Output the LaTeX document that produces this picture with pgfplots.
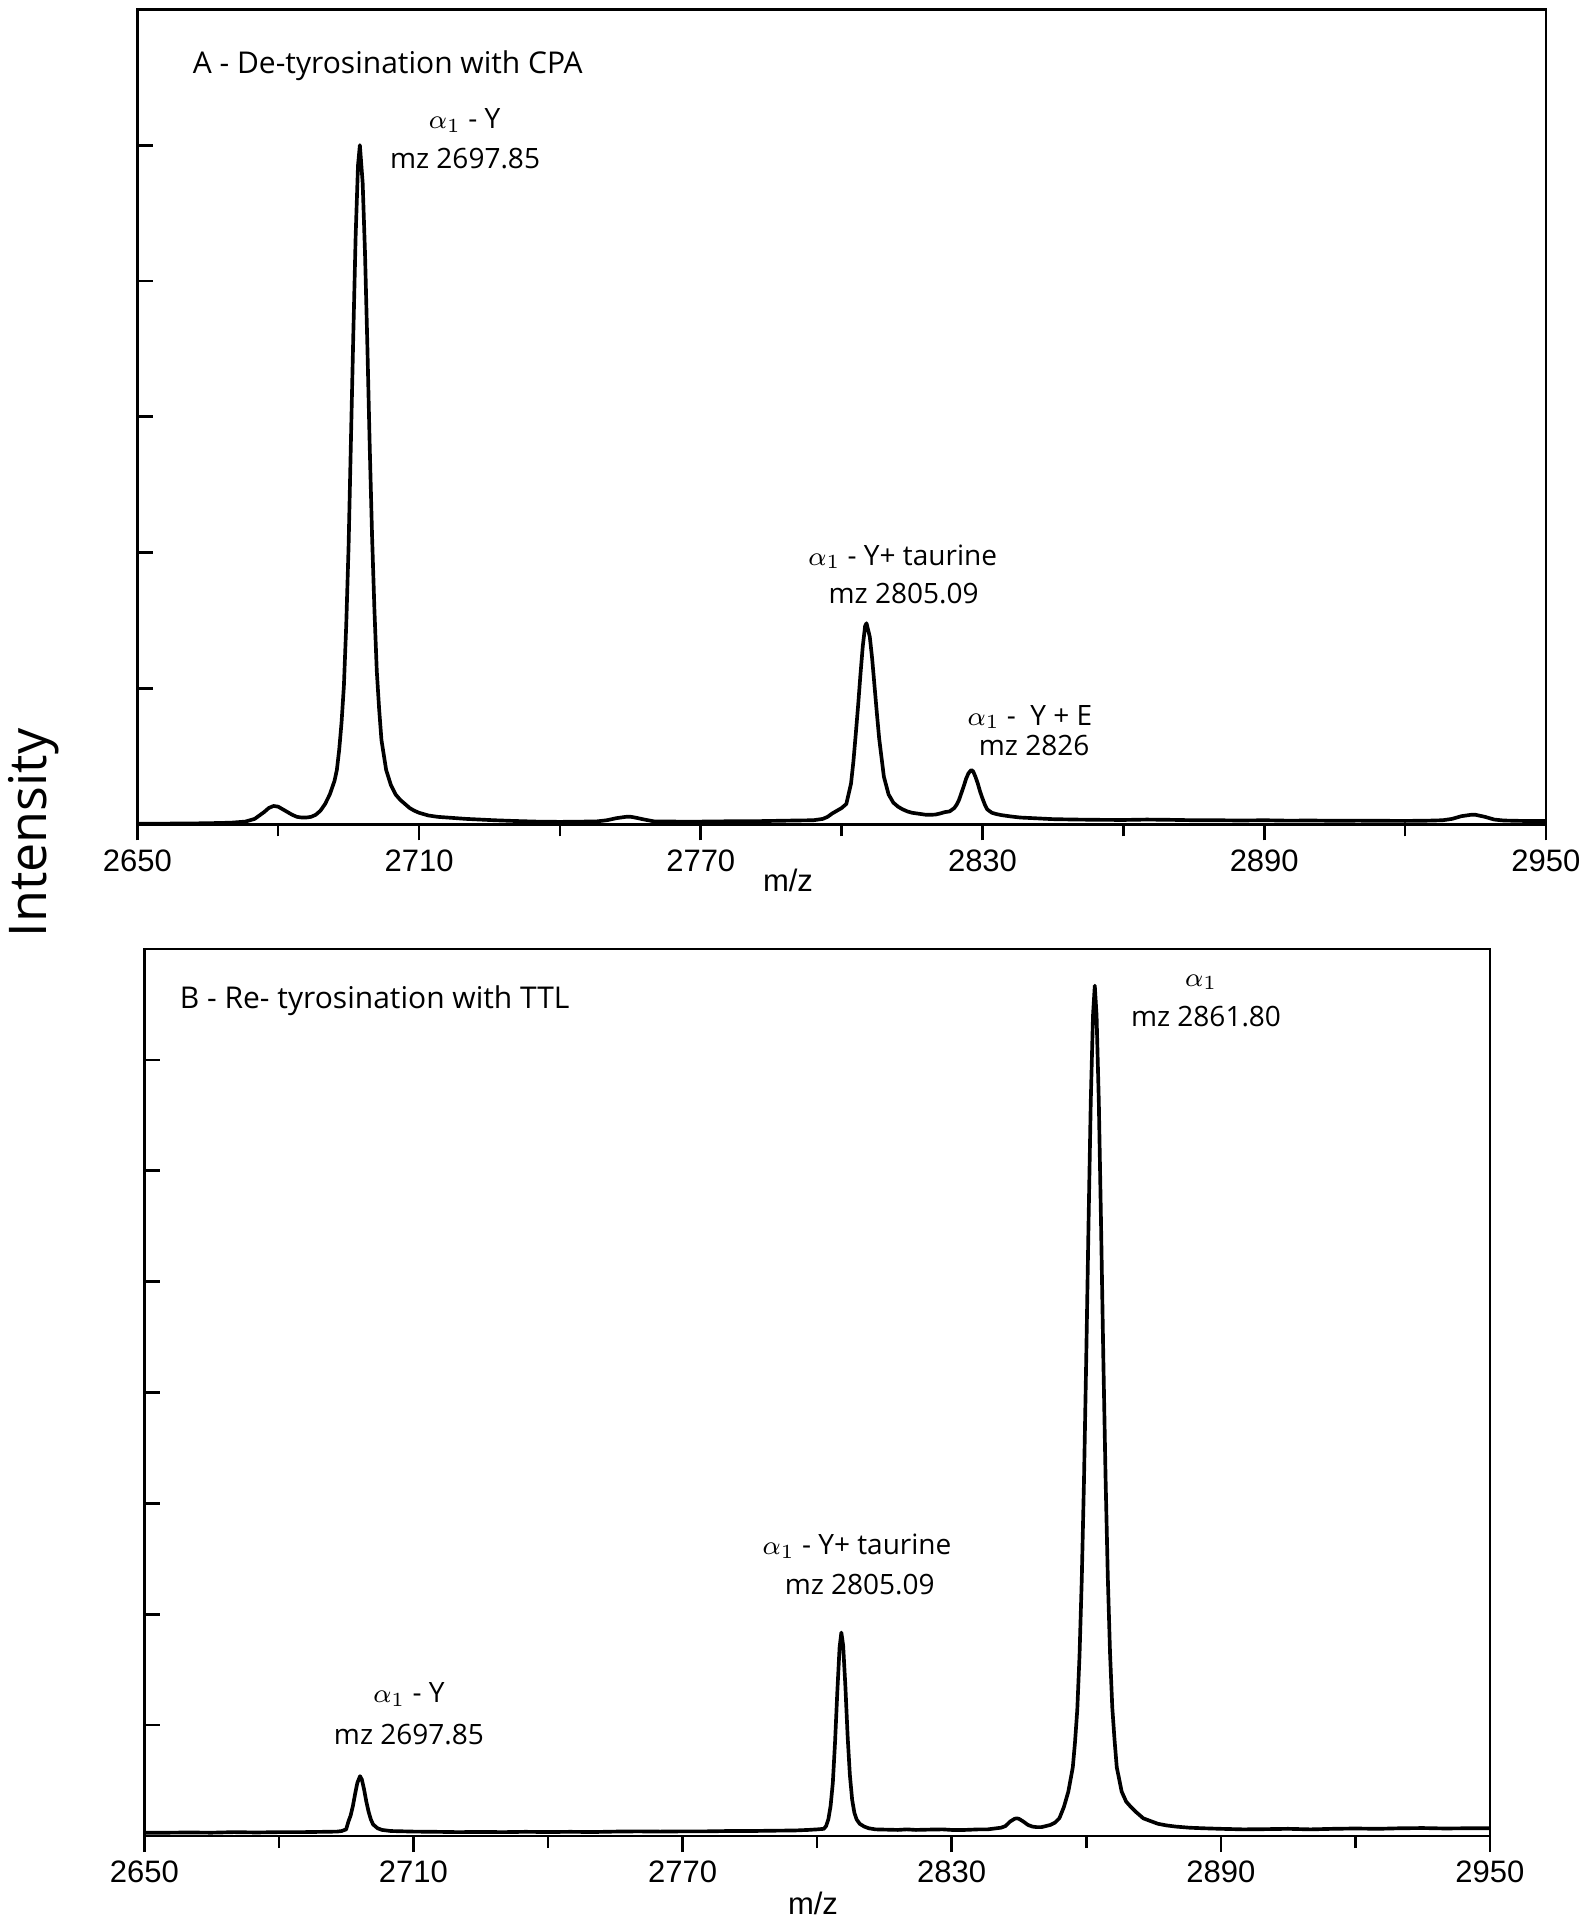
\documentclass[border=0pt]{standalone}
\usepackage{fontspec}
\setmainfont{Open Sans}
\newfontfamily\helv{Liberation Sans}
\usepackage{pgfplots}
\pgfplotsset{compat=1.18}
\pgfplotsset{
  spec/.style={
    scale only axis, clip=true,
    xmin=2650, xmax=2950, ymin=0,
    xtick={2650,2710,2770,2830,2890,2950},
    minor xtick={2680,2740,2800,2860,2920},
    xtick pos=left, ytick pos=left,
    yticklabels={},
    tick align=inside,
    major tick length=4.8pt, minor tick length=3.6pt,
    major x tick style={yshift=-4.8pt},
    minor x tick style={yshift=-3.6pt},
    tick style={black, line width=0.8pt},
    axis line style={line width=0.8pt},
    xticklabel style={font=\helv\fontsize{9.3}{11}\selectfont, yshift=-4pt},
    /pgf/number format/assume math mode=true,
    /pgf/number format/1000 sep={},
  },
}
\tikzset{
  lab/.style={font=\fontsize{8.4}{10}\selectfont, anchor=base, inner sep=0pt},
  ttl/.style={font=\fontsize{9}{11}\selectfont, anchor=base west, inner sep=0pt},
}
\begin{document}
\begin{tikzpicture}
\path[use as bounding box] (0,0) rectangle (477.3pt,-576pt);

% ---------------- Panel A ----------------
\begin{axis}[spec, at={(41.19pt,-247.29pt)}, anchor=south west,
  width=422.6pt, height=244.5pt, ymax=6, ytick={1,2,3,4,5}]
\addplot[black, line width=1.1pt, line join=round] coordinates {
(2650,0.005)(2655,0.005)(2660,0.006)(2665,0.008)(2670,0.012)(2673,0.02)
(2675,0.04)(2677,0.09)(2678,0.12)(2679,0.135)(2680,0.13)(2681,0.11)
(2682,0.09)(2683,0.07)(2684,0.055)(2685,0.05)(2686,0.05)(2687,0.055)
(2688,0.07)(2689,0.10)(2690,0.15)(2691,0.22)(2692,0.32)(2692.5,0.40)
(2693,0.55)(2693.5,0.75)(2694,1.02)(2694.5,1.47)(2695,2.05)(2695.5,2.83)
(2696,3.6)(2696.5,4.33)(2697,4.85)(2697.4,5.0)(2698,4.72)(2698.5,4.2)
(2699,3.52)(2699.5,2.78)(2700,2.12)(2700.5,1.58)(2701,1.13)(2701.5,0.85)
(2702,0.62)(2703,0.40)(2704,0.29)(2705,0.22)(2706,0.18)(2707,0.15)
(2708,0.12)(2709,0.10)(2710,0.085)(2712,0.065)(2714,0.055)(2716,0.05)
(2718,0.045)(2720,0.04)(2723,0.035)(2726,0.03)(2730,0.025)(2735,0.02)
(2740,0.018)(2745,0.02)(2748,0.022)(2750,0.03)(2752,0.045)(2754,0.055)
(2755,0.056)(2756,0.05)(2758,0.035)(2760,0.022)(2765,0.02)(2770,0.02)
(2775,0.022)(2780,0.022)(2785,0.025)(2790,0.028)(2794,0.03)(2796,0.04)
(2797,0.055)(2798,0.08)(2799,0.10)(2800,0.12)(2801,0.15)(2802,0.30)
(2802.5,0.46)(2803,0.66)(2803.5,0.87)(2804,1.10)(2804.5,1.31)(2805,1.46)
(2805.3,1.48)(2806,1.38)(2806.5,1.22)(2807,1.02)(2807.5,0.82)(2808,0.63)
(2808.5,0.49)(2809,0.35)(2810,0.22)(2811,0.16)(2812,0.13)(2813,0.11)
(2814,0.095)(2815,0.085)(2816,0.08)(2817,0.075)(2818,0.07)(2819,0.07)
(2820,0.072)(2821,0.08)(2822,0.09)(2823,0.095)(2824,0.12)(2824.5,0.145)
(2825,0.18)(2825.5,0.23)(2826,0.28)(2826.5,0.335)(2827,0.375)(2827.6,0.40)
(2828,0.39)(2828.5,0.35)(2829,0.30)(2829.5,0.24)(2830,0.19)(2830.5,0.145)
(2831,0.11)(2832,0.085)(2833,0.075)(2834,0.068)(2836,0.058)(2838,0.05)
(2841,0.045)(2845,0.038)(2850,0.035)(2855,0.033)(2860,0.032)(2865,0.035)
(2870,0.033)(2875,0.03)(2880,0.03)(2885,0.028)(2890,0.03)(2895,0.027)
(2900,0.028)(2905,0.026)(2910,0.027)(2915,0.026)(2920,0.025)(2925,0.027)
(2928,0.03)(2930,0.04)(2932,0.06)(2934,0.07)(2935,0.07)(2937,0.055)
(2939,0.035)(2941,0.028)(2945,0.025)(2950,0.025)
};
\node[ttl] at (axis cs:2661.7,5.53) {A - De-tyrosination with CPA};
\node[lab] at (axis cs:2719.7,5.12) {$\alpha_1$ - Y};
\node[lab] at (axis cs:2719.8,4.83) {mz 2697.85};
\node[lab] at (axis cs:2813.0,1.907) {$\alpha_1$ - Y+ taurine};
\node[lab] at (axis cs:2813.2,1.627) {mz 2805.09};
\node[lab] at (axis cs:2840.1,0.73) {$\alpha_1$ -\ \ Y + E};
\node[lab] at (axis cs:2841.0,0.51) {mz 2826};
\end{axis}

% ---------------- Panel B ----------------
\begin{axis}[spec, at={(43.29pt,-550.8pt)}, anchor=south west,
  width=403.7pt, height=266.1pt, ymax=8, ytick={1,2,3,4,5,6,7}]
\addplot[black, line width=1.1pt, line join=round] coordinates {
(2650,0.03)(2655,0.03)(2660,0.032)(2665,0.03)(2670,0.035)(2675,0.032)
(2680,0.035)(2685,0.035)(2690,0.038)(2693,0.04)(2694,0.045)(2695,0.06)
(2695.5,0.13)(2696,0.185)(2696.5,0.27)(2697,0.38)(2697.5,0.48)(2698.1,0.54)
(2698.5,0.51)(2699,0.42)(2699.5,0.31)(2700,0.22)(2700.5,0.15)(2701,0.105)
(2702,0.07)(2703,0.055)(2705,0.045)(2710,0.04)(2715,0.038)(2720,0.035)
(2725,0.037)(2730,0.035)(2735,0.038)(2740,0.036)(2745,0.038)(2750,0.036)
(2755,0.04)(2760,0.042)(2765,0.04)(2770,0.042)(2775,0.042)(2780,0.045)
(2785,0.045)(2790,0.048)(2795,0.05)(2798,0.055)(2800,0.06)(2801.5,0.065)
(2802,0.09)(2802.5,0.15)(2803,0.27)(2803.5,0.48)(2804,0.85)(2804.5,1.30)
(2805,1.70)(2805.4,1.835)(2805.8,1.72)(2806.3,1.35)(2806.8,0.90)(2807.3,0.55)
(2807.8,0.33)(2808.3,0.21)(2808.8,0.15)(2809.5,0.11)(2810.5,0.085)(2811.5,0.07)
(2813,0.06)(2815,0.058)(2818,0.055)(2820,0.06)(2822,0.055)(2825,0.058)
(2828,0.06)(2830,0.055)(2833,0.055)(2836,0.06)(2838,0.06)(2840,0.07)
(2841,0.075)(2842,0.09)(2843,0.13)(2844,0.155)(2844.5,0.16)(2845,0.155)
(2846,0.13)(2847,0.10)(2848,0.085)(2849,0.08)(2850,0.08)(2851,0.09)
(2852,0.10)(2853,0.12)(2854,0.16)(2855,0.26)(2856,0.40)(2857,0.62)
(2857.5,0.85)(2858,1.14)(2858.5,1.63)(2859,2.32)(2859.5,3.22)(2860,4.32)
(2860.5,5.51)(2861,6.62)(2861.5,7.40)(2861.9,7.67)(2862.3,7.40)(2862.8,6.62)
(2863.3,5.51)(2863.8,4.32)(2864.3,3.24)(2864.8,2.34)(2865.3,1.65)(2865.8,1.16)
(2866.3,0.87)(2866.8,0.62)(2867.9,0.40)(2868.9,0.31)(2870,0.26)(2871,0.22)
(2872.7,0.16)(2874,0.14)(2876,0.11)(2878,0.095)(2880,0.085)(2883,0.075)
(2886,0.07)(2890,0.065)(2895,0.06)(2900,0.062)(2905,0.065)(2910,0.06)
(2915,0.065)(2920,0.068)(2925,0.065)(2930,0.07)(2935,0.072)(2940,0.068)
(2945,0.07)(2950,0.07)
};
\node[ttl] at (axis cs:2657.8,7.46) {B - Re- tyrosination with TTL};
\node[lab] at (axis cs:2885.6,7.665) {$\alpha_1$};
\node[lab] at (axis cs:2886.7,7.30) {mz 2861.80};
\node[lab] at (axis cs:2808.9,2.54) {$\alpha_1$ - Y+ taurine};
\node[lab] at (axis cs:2809.5,2.18) {mz 2805.09};
\node[lab] at (axis cs:2709.0,1.20) {$\alpha_1$ - Y};
\node[lab] at (axis cs:2709.0,0.83) {mz 2697.85};
\end{axis}

\node[font=\helv\fontsize{9.3}{11}\selectfont] at (236.4pt,-264pt) {m/z};
\node[font=\helv\fontsize{9.3}{11}\selectfont] at (243.9pt,-570.9pt) {m/z};
\node[font=\fontsize{15.6}{18}\selectfont, rotate=90] at (10.2pt,-249.9pt) {Intensity};
\end{tikzpicture}
\end{document}
